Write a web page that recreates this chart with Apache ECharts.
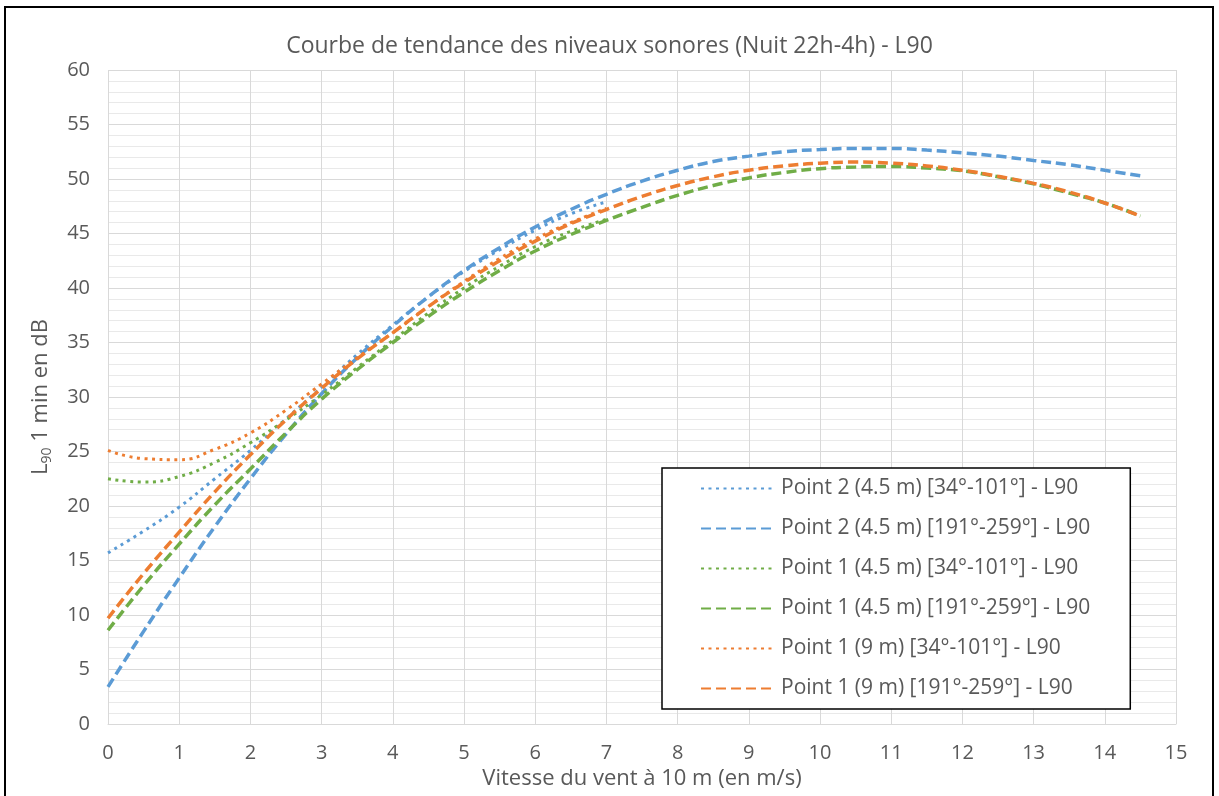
<!DOCTYPE html>
<html>
<head>
<meta charset="utf-8">
<script src="https://cdn.jsdelivr.net/npm/echarts@6/dist/echarts.min.js"></script>
<style>
html,body{margin:0;padding:0;background:#fff;}
#chart{width:1219px;height:796px;}
</style>
</head>
<body>
<div id="chart"></div>
<script>
// Wind speed (m/s) sampling positions
const xDotted = [0,0.5,1,1.5,2,2.5,3,3.5,4,4.5,5,5.5,6,6.5,7];
const xDashed = [0,0.5,1,1.5,2,2.5,3,3.5,4,4.5,5,5.5,6,6.5,7,7.5,8,8.5,9,9.5,10,10.5,11,11.5,12,12.5,13,13.5,14,14.5];

// Point 2 (4.5 m) [34°-101°]
const p2_45_dotted = [15.7,17.7,19.9,22.5,25.1,28.0,30.9,33.9,36.6,39.2,41.5,43.5,45.3,46.8,47.9];
// Point 2 (4.5 m) [191°-259°]
const p2_45_dashed = [3.4,8.5,13.4,18.1,22.5,26.6,30.3,33.6,36.5,39.2,41.6,43.7,45.6,47.2,48.6,49.8,50.8,51.6,52.1,52.5,52.7,52.8,52.8,52.65,52.4,52.1,51.7,51.3,50.8,50.3];
// Point 1 (4.5 m) [34°-101°]
const p1_45_dotted = [22.5,22.2,22.7,24.0,25.8,27.9,30.2,32.7,35.2,37.7,40.0,42.0,43.8,45.2,46.3];
// Point 1 (4.5 m) [191°-259°]
const p1_45_dashed = [8.6,12.7,16.5,20.1,23.4,26.7,29.8,32.5,35.0,37.4,39.6,41.6,43.4,44.9,46.2,47.4,48.5,49.4,50.1,50.6,50.95,51.1,51.15,51.0,50.75,50.2,49.55,48.7,47.8,46.6];
// Point 1 (9 m) [34°-101°]
const p1_9_dotted = [25.1,24.35,24.25,25.2,26.7,28.8,31.2,33.6,35.9,38.3,40.6,42.7,44.5,46.0,47.3];
// Point 1 (9 m) [191°-259°]
const p1_9_dashed = [9.7,13.8,17.6,21.3,24.7,27.9,30.8,33.5,35.9,38.3,40.5,42.5,44.3,45.9,47.2,48.4,49.4,50.2,50.8,51.2,51.45,51.55,51.45,51.2,50.8,50.25,49.6,48.8,47.8,46.6];

const seriesNames = [
  'Point 2 (4.5 m) [34°-101°] - L90',
  'Point 2 (4.5 m) [191°-259°] - L90',
  'Point 1 (4.5 m) [34°-101°] - L90',
  'Point 1 (4.5 m) [191°-259°] - L90',
  'Point 1 (9 m) [34°-101°] - L90',
  'Point 1 (9 m) [191°-259°] - L90'
];
const titleText = 'Courbe de tendance des niveaux sonores (Nuit 22h-4h) - L90';
const xAxisTitle = 'Vitesse du vent à 10 m (en m/s)';

const BLUE = '#5B9BD5', GREEN = '#70AD47', ORANGE = '#ED7D31';
const FONT = 'Open Sans';
const TXT = '#595959';

function pairs(xs, ys){ return xs.map((x,i)=>[x, ys[i]]); }
function mk(name, xs, ys, color, dotted){
  return {
    name: name, type: 'line', smooth: true, symbol: 'none',
    data: pairs(xs, ys),
    lineStyle: dotted
      ? {color: color, width: 3, type: [3, 4.5], cap: 'butt'}
      : {color: color, width: 3.5, type: [10, 5], cap: 'butt'},
    itemStyle: {color: color}
  };
}

const chart = echarts.init(document.getElementById('chart'), null, {renderer: 'canvas'});
chart.setOption({
  backgroundColor: '#fff',
  animation: false,
  title: {
    text: titleText, left: 'center', top: 30,
    textStyle: {fontFamily: FONT, fontSize: 23, fontWeight: 'normal', color: TXT}
  },
  graphic: [{
    type: 'rect', shape: {x: 5, y: 7, width: 1208, height: 800},
    style: {fill: 'none', stroke: '#000', lineWidth: 2}, silent: true, z: 100
  }],
  grid: {left: 108, right: 43, top: 70, bottom: 72},
  legend: {
    orient: 'vertical', left: 662, top: 468,
    backgroundColor: '#fff', borderColor: '#000', borderWidth: 1.5,
    padding: [10, 40, 10, 38],
    itemWidth: 75, itemHeight: 20, itemGap: 19,
    itemStyle: {opacity: 0},
    textStyle: {fontFamily: FONT, fontSize: 21, color: TXT},
    data: seriesNames
  },
  xAxis: {
    type: 'value', min: 0, max: 15, interval: 1,
    name: xAxisTitle, nameLocation: 'middle', nameGap: 37,
    nameTextStyle: {fontFamily: FONT, fontSize: 22, color: TXT},
    axisLine: {show: true, lineStyle: {color: '#d9d9d9', width: 1}},
    axisTick: {show: false},
    axisLabel: {fontFamily: FONT, fontSize: 20, color: TXT, margin: 19},
    splitLine: {show: true, lineStyle: {color: '#d9d9d9', width: 1}}
  },
  yAxis: {
    type: 'value', min: 0, max: 60, interval: 5,
    name: '{a|L}{s|90}{a| 1 min en dB}', nameLocation: 'middle', nameGap: 54, nameRotate: 90,
    nameTextStyle: {
      fontFamily: FONT, fontSize: 22, color: TXT,
      rich: {
        a: {fontFamily: FONT, fontSize: 22, color: TXT},
        s: {fontFamily: FONT, fontSize: 14, color: TXT, verticalAlign: 'bottom', padding: [12, 0, 0, 0]}
      }
    },
    axisLine: {show: false},
    axisTick: {show: false},
    axisLabel: {fontFamily: FONT, fontSize: 20, color: TXT, margin: 18},
    splitLine: {show: true, lineStyle: {color: '#d9d9d9', width: 1}},
    minorTick: {show: false, splitNumber: 5},
    minorSplitLine: {show: true, lineStyle: {color: '#e9e9e9', width: 1}}
  },
  series: [
    mk(seriesNames[0], xDotted, p2_45_dotted, BLUE, true),
    mk(seriesNames[1], xDashed, p2_45_dashed, BLUE, false),
    mk(seriesNames[2], xDotted, p1_45_dotted, GREEN, true),
    mk(seriesNames[3], xDashed, p1_45_dashed, GREEN, false),
    mk(seriesNames[4], xDotted, p1_9_dotted, ORANGE, true),
    mk(seriesNames[5], xDashed, p1_9_dashed, ORANGE, false)
  ]
});
</script>
</body>
</html>
